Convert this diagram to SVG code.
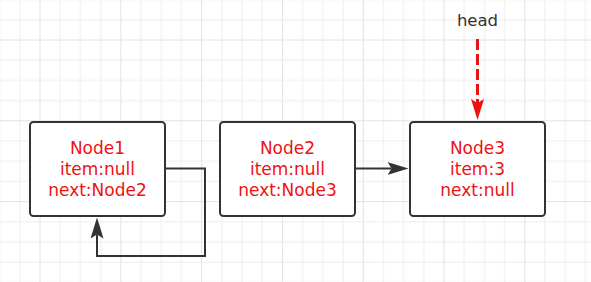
<svg xmlns="http://www.w3.org/2000/svg" width="591" height="282" viewBox="0 0 591 282">
  <style>
    .box { fill: #ffffff; stroke: #333333; stroke-width: 2; }
    .lbl { font-family: "DejaVu Sans", "Noto Sans", sans-serif; font-size: 17px; fill: #ee1111; text-anchor: middle; }
    .head { font-family: "DejaVu Sans", "Noto Sans", sans-serif; font-size: 16.5px; fill: #333333; text-anchor: middle; }
    .conn { fill: none; stroke: #333333; stroke-width: 2; }
    .dash { fill: none; stroke: #ee1111; stroke-width: 3; stroke-dasharray: 11 4; }
  </style>
  <defs>
    <pattern id="grid" patternUnits="userSpaceOnUse" x="39.5" y="39.5" width="80.8" height="80.8">
      <rect x="0" y="0" width="80.8" height="80.8" fill="#ffffff"/>
      <rect x="20.2" y="0" width="1" height="80.8" fill="#eeeeee"/>
      <rect x="40.4" y="0" width="1" height="80.8" fill="#eeeeee"/>
      <rect x="60.6" y="0" width="1" height="80.8" fill="#eeeeee"/>
      <rect x="0" y="20.2" width="80.8" height="1" fill="#eeeeee"/>
      <rect x="0" y="40.4" width="80.8" height="1" fill="#eeeeee"/>
      <rect x="0" y="60.6" width="80.8" height="1" fill="#eeeeee"/>
      <rect x="0" y="0" width="1" height="80.8" fill="#e2e2e2"/>
      <rect x="0" y="0" width="80.8" height="1" fill="#e2e2e2"/>
    </pattern>
    <marker id="arrowBlack" markerUnits="userSpaceOnUse" markerWidth="21" markerHeight="13" viewBox="0 0 21 13" refX="4" refY="6.5" orient="auto">
      <path d="M0,0 L21,6.5 L0,13 L4,6.5 Z" fill="#333333"/>
    </marker>
    <marker id="arrowRed" markerUnits="userSpaceOnUse" markerWidth="21" markerHeight="13" viewBox="0 0 21 13" refX="4" refY="6.5" orient="auto">
      <path d="M0,0 L21,6.5 L0,13 L4,6.5 Z" fill="#ee1111"/>
    </marker>
  </defs>
  <rect x="0" y="0" width="591" height="282" fill="url(#grid)"/>

  <g id="connectors">
    <path class="conn" d="M165,168.5 H205 V256 H97 V234.5" marker-end="url(#arrowBlack)"/>
    <path class="conn" d="M355,168.5 H391.5" marker-end="url(#arrowBlack)"/>
    <path class="dash" d="M477.5,39 V103" marker-end="url(#arrowRed)"/>
  </g>

  <g id="node1">
    <rect class="box" x="30" y="122" width="135" height="94" rx="3.5"/>
    <text class="lbl" x="97.5" y="154"><tspan x="97.5">Node1</tspan><tspan x="97.5" dy="21">item:null</tspan><tspan x="97.5" dy="21">next:Node2</tspan></text>
  </g>

  <g id="node2">
    <rect class="box" x="220" y="122" width="135" height="94" rx="3.5"/>
    <text class="lbl" x="287.5" y="154"><tspan x="287.5">Node2</tspan><tspan x="287.5" dy="21">item:null</tspan><tspan x="287.5" dy="21">next:Node3</tspan></text>
  </g>

  <g id="node3">
    <rect class="box" x="410" y="122" width="135" height="94" rx="3.5"/>
    <text class="lbl" x="477.5" y="154"><tspan x="477.5">Node3</tspan><tspan x="477.5" dy="21">item:3</tspan><tspan x="477.5" dy="21">next:null</tspan></text>
  </g>

  <g id="head">
    <text class="head" x="477.5" y="26">head</text>
  </g>
</svg>
